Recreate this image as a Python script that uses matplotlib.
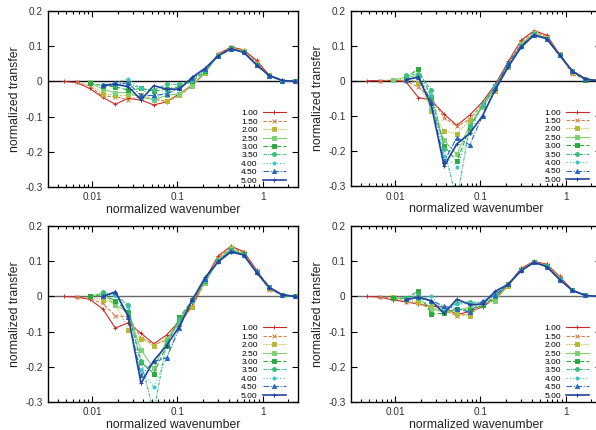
import numpy as np
import matplotlib
matplotlib.use("Agg")
import matplotlib.pyplot as plt
from matplotlib.ticker import LogLocator, NullFormatter, FixedLocator, FixedFormatter

plt.rcParams["font.family"] = ["Liberation Sans", "DejaVu Sans"]

nan = np.nan

# wavenumber grid (shared by all panels)
x = [0.0047, 0.0066, 0.0094, 0.0133, 0.0188, 0.0266, 0.0376, 0.053, 0.075, 0.106,
     0.150, 0.213, 0.30, 0.425, 0.60, 0.85, 1.20, 1.70, 2.40]

labels = ["1.00", "1.50", "2.00", "2.50", "3.00", "3.50", "4.00", "4.50", "5.00"]

# panel 1 (top left)
p1 = [
    [0, -0.003, -0.02, -0.045, -0.065, -0.048, -0.053, -0.067, -0.058, -0.035, -0.01, 0.025, 0.078, 0.098, 0.09, 0.06, 0.017, 0.003, 0],
    [nan, -0.003, -0.012, -0.042, -0.043, -0.053, -0.043, -0.05, -0.057, -0.04, -0.012, 0.025, 0.078, 0.097, 0.088, 0.055, 0.017, 0.002, 0],
    [nan, nan, -0.005, -0.035, -0.04, -0.04, -0.04, -0.05, -0.055, -0.04, -0.012, 0.025, 0.075, 0.095, 0.087, 0.05, 0.017, 0.002, 0],
    [nan, nan, -0.002, -0.022, -0.032, -0.032, -0.045, -0.052, -0.04, -0.035, -0.012, 0.028, 0.073, 0.095, 0.085, 0.047, 0.016, 0.002, 0],
    [nan, nan, -0.005, -0.012, -0.015, -0.025, -0.02, -0.028, -0.022, -0.015, 0.0, 0.03, 0.073, 0.094, 0.084, 0.047, 0.016, 0.002, 0],
    [nan, nan, nan, -0.01, -0.01, -0.005, -0.02, -0.025, -0.008, -0.008, 0.005, 0.032, 0.072, 0.093, 0.083, 0.047, 0.016, 0.002, 0],
    [nan, nan, nan, -0.01, -0.005, 0.007, -0.02, -0.05, -0.03, -0.02, 0.005, 0.033, 0.072, 0.093, 0.083, 0.047, 0.016, 0.002, 0],
    [nan, nan, nan, -0.01, -0.005, -0.005, -0.04, -0.04, -0.035, -0.02, 0.01, 0.035, 0.072, 0.093, 0.083, 0.047, 0.016, 0.002, 0],
    [nan, nan, nan, -0.012, -0.008, -0.015, -0.052, -0.012, -0.022, -0.022, 0.012, 0.038, 0.073, 0.093, 0.083, 0.047, 0.017, 0.003, 0],
]

# panel 2 (top right)
p2 = [
    [0, 0, 0.001, -0.002, -0.048, -0.055, -0.095, -0.127, -0.098, -0.06, -0.01, 0.055, 0.115, 0.143, 0.13, 0.075, 0.028, 0.006, 0],
    [nan, 0, 0.002, 0.0, -0.018, -0.05, -0.105, -0.13, -0.11, -0.065, -0.015, 0.05, 0.11, 0.14, 0.125, 0.075, 0.018, 0.005, 0],
    [nan, nan, 0.002, 0.005, -0.005, -0.085, -0.143, -0.152, -0.112, -0.07, -0.028, 0.04, 0.105, 0.137, 0.122, 0.075, 0.025, 0.005, 0],
    [nan, nan, 0.002, 0.01, 0.015, -0.08, -0.17, -0.21, -0.125, -0.075, -0.02, 0.04, 0.103, 0.135, 0.12, 0.072, 0.027, 0.003, 0],
    [nan, nan, nan, 0.01, 0.033, -0.045, -0.185, -0.23, -0.135, -0.07, -0.015, 0.045, 0.1, 0.133, 0.12, 0.073, 0.027, 0.003, 0],
    [nan, nan, nan, 0.015, 0.02, -0.025, -0.195, -0.34, -0.13, -0.07, -0.015, 0.045, 0.1, 0.132, 0.12, 0.072, 0.027, 0.004, 0],
    [nan, nan, nan, 0.005, 0.01, -0.04, -0.215, -0.245, -0.15, -0.065, -0.015, 0.045, 0.1, 0.132, 0.12, 0.073, 0.027, 0.005, 0],
    [nan, nan, nan, 0.003, 0.012, -0.06, -0.23, -0.162, -0.183, -0.1, -0.02, 0.05, 0.1, 0.13, 0.12, 0.073, 0.028, 0.006, 0],
    [nan, nan, nan, 0.003, 0.01, -0.07, -0.243, -0.18, -0.15, -0.1, -0.025, 0.04, 0.095, 0.13, 0.12, 0.073, 0.027, 0.005, 0],
]

# panel 3 (bottom left)
p3 = [
    [0, -0.002, -0.008, -0.035, -0.09, -0.075, -0.105, -0.135, -0.11, -0.07, -0.025, 0.05, 0.115, 0.143, 0.128, 0.075, 0.025, 0.005, 0],
    [nan, -0.002, -0.005, -0.02, -0.055, -0.058, -0.118, -0.137, -0.125, -0.075, -0.03, 0.045, 0.11, 0.14, 0.125, 0.072, 0.018, 0.005, 0],
    [nan, nan, 0.0, -0.01, -0.02, -0.095, -0.12, -0.14, -0.12, -0.078, -0.03, 0.038, 0.105, 0.137, 0.122, 0.07, 0.025, 0.004, 0],
    [nan, nan, 0.0, 0.01, -0.025, -0.045, -0.152, -0.205, -0.125, -0.07, -0.01, 0.04, 0.105, 0.135, 0.12, 0.07, 0.027, 0.003, 0],
    [nan, nan, 0.0, 0.005, -0.012, -0.045, -0.187, -0.22, -0.14, -0.06, -0.01, 0.045, 0.1, 0.133, 0.12, 0.07, 0.027, 0.003, 0],
    [nan, nan, nan, 0.012, 0.005, -0.025, -0.185, -0.33, -0.13, -0.065, -0.012, 0.045, 0.1, 0.132, 0.119, 0.07, 0.026, 0.004, 0],
    [nan, nan, nan, 0.0, 0.005, -0.03, -0.21, -0.258, -0.175, -0.08, -0.01, 0.048, 0.1, 0.13, 0.118, 0.07, 0.026, 0.005, 0],
    [nan, nan, nan, 0.0, 0.012, -0.06, -0.225, -0.185, -0.175, -0.09, -0.008, 0.05, 0.1, 0.13, 0.118, 0.07, 0.026, 0.005, 0],
    [nan, nan, nan, 0.0, 0.013, -0.057, -0.248, -0.183, -0.14, -0.085, -0.01, 0.055, 0.098, 0.127, 0.118, 0.068, 0.025, 0.005, 0],
]

# panel 4 (bottom right)
p4 = [
    [0, -0.002, -0.01, -0.015, -0.022, -0.028, -0.03, -0.052, -0.043, -0.03, -0.005, 0.035, 0.08, 0.1, 0.092, 0.057, 0.018, 0.003, 0],
    [nan, -0.002, -0.005, -0.015, -0.02, -0.035, -0.04, -0.055, -0.05, -0.025, -0.005, 0.03, 0.078, 0.098, 0.09, 0.055, 0.018, 0.003, 0],
    [nan, nan, -0.002, -0.01, -0.015, -0.03, -0.04, -0.05, -0.055, -0.02, -0.01, 0.03, 0.075, 0.098, 0.088, 0.05, 0.017, 0.003, 0],
    [nan, nan, -0.005, -0.005, -0.005, -0.035, -0.045, -0.04, -0.03, -0.02, -0.012, 0.035, 0.075, 0.097, 0.087, 0.05, 0.017, 0.003, 0],
    [nan, nan, -0.005, -0.005, 0.015, -0.05, -0.048, -0.035, -0.04, -0.025, 0.0, 0.035, 0.075, 0.097, 0.086, 0.049, 0.017, 0.003, 0],
    [nan, nan, nan, -0.008, 0.005, -0.015, -0.038, -0.02, -0.015, -0.02, 0.005, 0.035, 0.074, 0.097, 0.086, 0.049, 0.017, 0.003, 0],
    [nan, nan, nan, -0.005, -0.005, 0.0, -0.04, -0.022, -0.02, -0.015, 0.01, 0.035, 0.074, 0.097, 0.086, 0.049, 0.017, 0.003, 0],
    [nan, nan, nan, -0.008, -0.002, -0.012, -0.028, -0.035, -0.045, -0.012, 0.005, 0.035, 0.074, 0.097, 0.085, 0.048, 0.017, 0.003, 0],
    [nan, nan, nan, -0.01, -0.002, -0.013, -0.048, -0.008, -0.023, -0.022, 0.015, 0.035, 0.073, 0.097, 0.085, 0.048, 0.017, 0.003, 0],
]

colors = ["#c8282a", "#d0804a", "#b8b834", "#7ed070", "#2aaa3a", "#3cc080",
          "#38c4c4", "#2a66c0", "#2244a0"]
styles = ["-", (0, (3, 1.5)), (0, (1, 1.2)), "-", (0, (4, 2)), (0, (3, 1, 1, 1)),
          (0, (1, 2)), (0, (5, 1.5, 1, 1.5)), "-"]
markers = ["+", "x", "s", "s", "s", "o", "o", "^", "+"]
msizes = [3.2, 2.8, 2.4, 3.4, 2.4, 2.8, 2.2, 3.0, 2.4]
widths = [0.8, 0.8, 0.8, 0.8, 0.8, 0.8, 0.8, 0.8, 1.2]

panels = [p1, p2, p3, p4]
positions = [
    [0.0805, 0.5658, 0.4195, 0.408],
    [0.5890, 0.5674, 0.4195, 0.408],
    [0.0805, 0.0658, 0.4195, 0.408],
    [0.5890, 0.0658, 0.4195, 0.408],
]
zero_colors = ["#111111", "#111111", "#666666", "#666666"]

fig = plt.figure(figsize=(5.96, 4.30), dpi=100)

for data, pos, zc in zip(panels, positions, zero_colors):
    ax = fig.add_axes(pos)
    ax.axhline(0, color=zc, lw=1.0, zorder=1)
    for i, y in enumerate(data):
        ax.plot(x, y, color=colors[i], ls=styles[i], lw=widths[i],
                marker=markers[i], ms=msizes[i], mew=0.7, label=labels[i],
                zorder=2 + i * 0.1)
    ax.set_xscale("log")
    ax.set_xlim(0.00305, 2.6)
    ax.set_ylim(-0.3, 0.2)
    ax.xaxis.set_major_locator(FixedLocator([0.01, 0.1, 1]))
    ax.xaxis.set_major_formatter(FixedFormatter(["0.01", "0.1", "1"]))
    ax.xaxis.set_minor_locator(LogLocator(base=10, subs=np.arange(2, 10)))
    ax.xaxis.set_minor_formatter(NullFormatter())
    yt = [-0.3, -0.2, -0.1, 0, 0.1, 0.2]
    ax.yaxis.set_major_locator(FixedLocator(yt))
    ax.yaxis.set_major_formatter(FixedFormatter(["-0.3", "-0.2", "-0.1", "0", "0.1", "0.2"]))
    ax.tick_params(which="both", direction="in", top=True, right=True,
                   labelsize=7.2, colors="black", labelcolor="#333333", width=0.8)
    ax.tick_params(which="major", length=4, pad=4)
    ax.tick_params(which="minor", length=2)
    for s in ax.spines.values():
        s.set_linewidth(1.0)
    ax.set_xlabel("normalized wavenumber", fontsize=8.8, color="#222222", labelpad=1)
    ax.set_ylabel("normalized transfer", fontsize=8.8, color="#222222", labelpad=3)
    ax.legend(loc="lower right", bbox_to_anchor=(0.951, 0.012), frameon=False,
              fontsize=6.0, labelspacing=0.07, handlelength=2.76, handletextpad=0.6,
              borderpad=0, borderaxespad=0, numpoints=1, markerfirst=False)

fig.savefig("out.png", dpi=100)
